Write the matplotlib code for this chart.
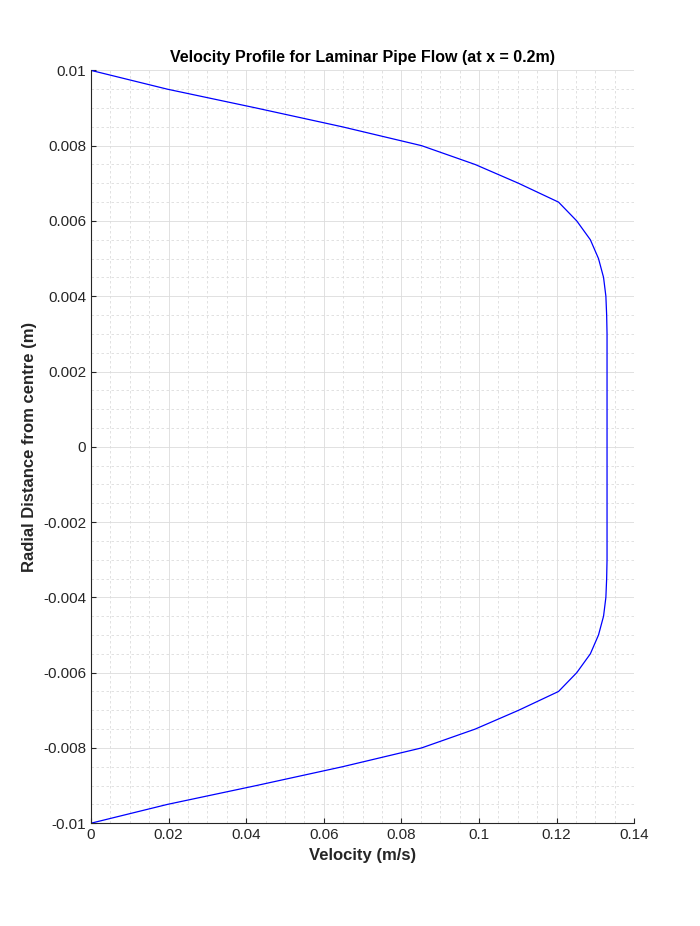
import matplotlib.pyplot as plt
from matplotlib.ticker import AutoMinorLocator, FixedLocator

# radial positions (m) and velocities (m/s)
radius = [0.01, 0.0095, 0.009, 0.0085, 0.008, 0.0075, 0.007, 0.0065, 0.006,
          0.0055, 0.005, 0.0045, 0.004, 0.0035, 0.003, 0.002, 0.001, 0.0,
          -0.001, -0.002, -0.003, -0.0035, -0.004, -0.0045, -0.005, -0.0055,
          -0.006, -0.0065, -0.007, -0.0075, -0.008, -0.0085, -0.009, -0.0095,
          -0.01]
velocity = [0.0, 0.0197, 0.0426, 0.0648, 0.0852, 0.099, 0.1102, 0.1205, 0.1252,
            0.1287, 0.1308, 0.1321, 0.1327, 0.1329, 0.133, 0.133, 0.133, 0.133,
            0.133, 0.133, 0.133, 0.1329, 0.1327, 0.1321, 0.1308, 0.1287,
            0.1252, 0.1205, 0.1102, 0.099, 0.0852, 0.0648, 0.0426, 0.0197, 0.0]
x_ticks = [0, 0.02, 0.04, 0.06, 0.08, 0.1, 0.12, 0.14]
y_ticks = [-0.01, -0.008, -0.006, -0.004, -0.002, 0, 0.002, 0.004, 0.006, 0.008, 0.01]

plt.rcParams['font.family'] = ['Arial', 'Liberation Sans', 'DejaVu Sans']
fig = plt.figure(figsize=(7, 9.26), dpi=100)
ax = fig.add_axes([0.13, 0.111, 0.776, 0.813])
ax.plot(velocity, radius, color='#0000ff', lw=0.9)

ax.set_xlim(0, 0.14)
ax.set_ylim(-0.01, 0.01)
ax.xaxis.set_major_locator(FixedLocator(x_ticks))
ax.yaxis.set_major_locator(FixedLocator(y_ticks))
ax.set_xticklabels([f'{t:g}' for t in x_ticks])
ax.set_yticklabels([f'{t:g}' for t in y_ticks])
ax.xaxis.set_minor_locator(AutoMinorLocator(4))
ax.yaxis.set_minor_locator(AutoMinorLocator(4))
ax.grid(which='major', color='#dcdcdc', lw=0.6)
ax.grid(which='minor', color='#dcdcdc', lw=0.6, ls=(0, (3, 3)))
ax.tick_params(which='both', direction='in', labelsize=11, colors='#262626')
ax.tick_params(which='minor', length=0)
for s in ['top', 'right']:
    ax.spines[s].set_visible(False)
for s in ['left', 'bottom']:
    ax.spines[s].set_color('#262626')

ax.set_title('Velocity Profile for Laminar Pipe Flow (at x = 0.2m)',
             fontsize=11.5, fontweight='bold')
ax.set_xlabel('Velocity (m/s)', fontsize=12, fontweight='bold', color='#262626')
ax.set_ylabel('Radial Distance from centre (m)', fontsize=12, fontweight='bold',
              color='#262626')
fig.savefig('out.png')
